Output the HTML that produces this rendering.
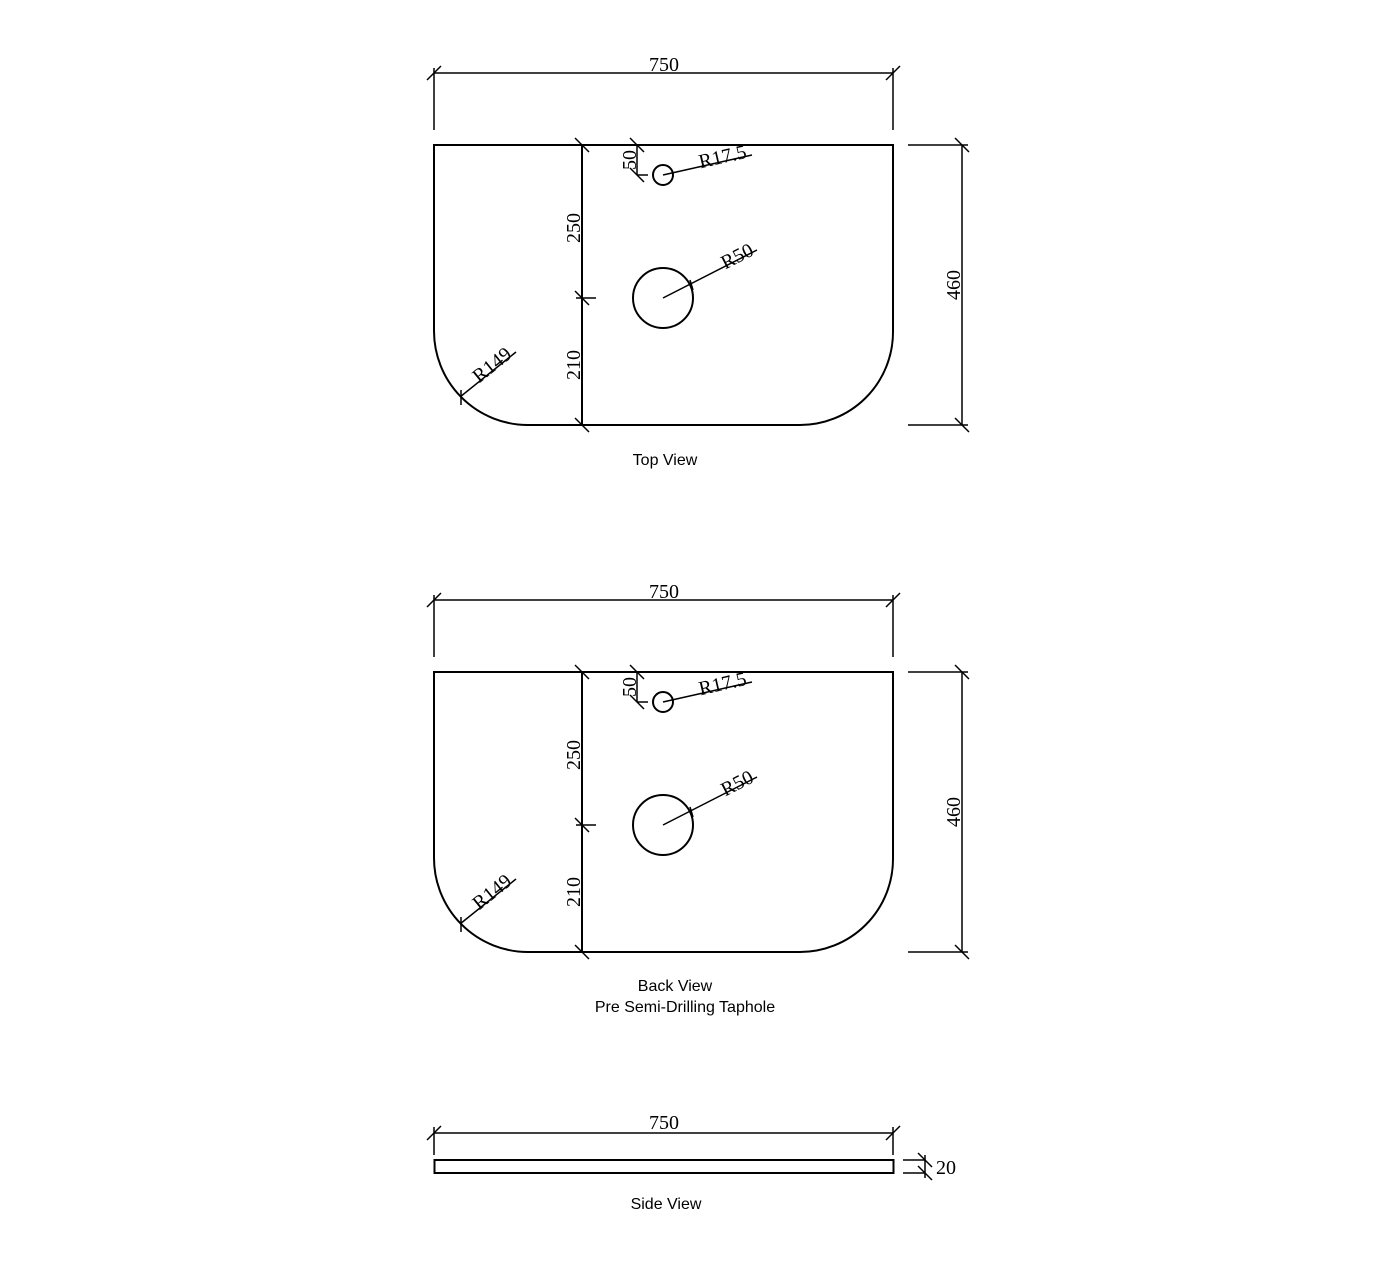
<!DOCTYPE html>
<html><head><style>body{margin:0;background:#fff}svg{display:block}</style></head>
<body>
<svg width="1400" height="1279" viewBox="0 0 1400 1279" xmlns="http://www.w3.org/2000/svg">
<defs>
<g id="plan" fill="none" stroke="#000" stroke-width="2">
  <path d="M434,145 H893 V332 A93,93 0 0 1 800,425 H528 A94,94 0 0 1 434,331 Z"/>
  <line x1="582" y1="145" x2="582" y2="425"/>
  <line x1="596" y1="298" x2="576" y2="298" stroke-width="1.5"/>
  <path d="M575,138 l14,14 M575,291 l14,14 M575,418 l14,14" stroke-width="1.5"/>
  <circle cx="663" cy="175" r="10"/>
  <circle cx="663" cy="298" r="30"/>
  <g stroke-width="1.5">
    <line x1="637" y1="145" x2="637" y2="175"/>
    <line x1="637" y1="175" x2="648" y2="175"/>
    <path d="M630,138 l14,14 M630,168 l14,14"/>
    <line x1="663" y1="175" x2="752" y2="155"/>
    <line x1="663" y1="298" x2="757" y2="250"/>
    <line x1="460" y1="397" x2="516" y2="352"/>
    <path d="M461,390 v15"/>
    <path d="M690,280 l3,10"/>
  </g>
  <g stroke-width="1.5">
    <line x1="908" y1="145" x2="968" y2="145"/>
    <line x1="908" y1="425" x2="968" y2="425"/>
    <line x1="962" y1="145" x2="962" y2="425"/>
    <path d="M955,138 l14,14 M955,418 l14,14"/>
    <line x1="434" y1="73" x2="893" y2="73"/>
    <line x1="434" y1="68" x2="434" y2="130"/>
    <line x1="893" y1="68" x2="893" y2="130"/>
    <path d="M427,80 l14,-14 M886,80 l14,-14"/>
  </g>
  <g stroke="none" fill="#000" font-family="Liberation Serif, serif" font-size="20">
    <text x="664" y="71" text-anchor="middle">750</text>
    <text transform="translate(960,285) rotate(-90)" text-anchor="middle">460</text>
    <text transform="translate(580,228) rotate(-90)" text-anchor="middle">250</text>
    <text transform="translate(580,365) rotate(-90)" text-anchor="middle">210</text>
    <text transform="translate(636,160) rotate(-90)" text-anchor="middle">50</text>
    <text transform="translate(724,163) rotate(-13)" text-anchor="middle">R17.5</text>
    <text transform="translate(740,262) rotate(-27)" text-anchor="middle">R50</text>
    <text transform="translate(496,370) rotate(-39)" text-anchor="middle">R149</text>
  </g>
</g>
</defs>
<use href="#plan"/>
<use href="#plan" transform="translate(0,527)"/>
<g font-family="Liberation Sans, sans-serif" font-size="16" text-anchor="middle" fill="#000">
  <text x="665" y="465">Top View</text>
  <text x="675" y="991">Back View</text>
  <text x="685" y="1012">Pre Semi-Drilling Taphole</text>
  <text x="666" y="1209">Side View</text>
</g>
<g fill="none" stroke="#000" stroke-width="1.5">
  <rect x="434.5" y="1160" width="459" height="13" stroke-width="2"/>
  <line x1="434" y1="1133" x2="893" y2="1133"/>
  <line x1="434" y1="1127" x2="434" y2="1155"/>
  <line x1="893" y1="1127" x2="893" y2="1155"/>
  <path d="M427,1140 l14,-14 M886,1140 l14,-14"/>
  <line x1="903" y1="1160" x2="925" y2="1160"/>
  <line x1="903" y1="1173" x2="925" y2="1173"/>
  <line x1="925" y1="1155" x2="925" y2="1178"/>
  <path d="M918,1153 l14,14 M918,1166 l14,14"/>
</g>
<text x="936" y="1174" font-family="Liberation Serif, serif" font-size="20" fill="#000">20</text>
<text x="664" y="1129" font-family="Liberation Serif, serif" font-size="20" fill="#000" text-anchor="middle">750</text>
</svg>
</body></html>
